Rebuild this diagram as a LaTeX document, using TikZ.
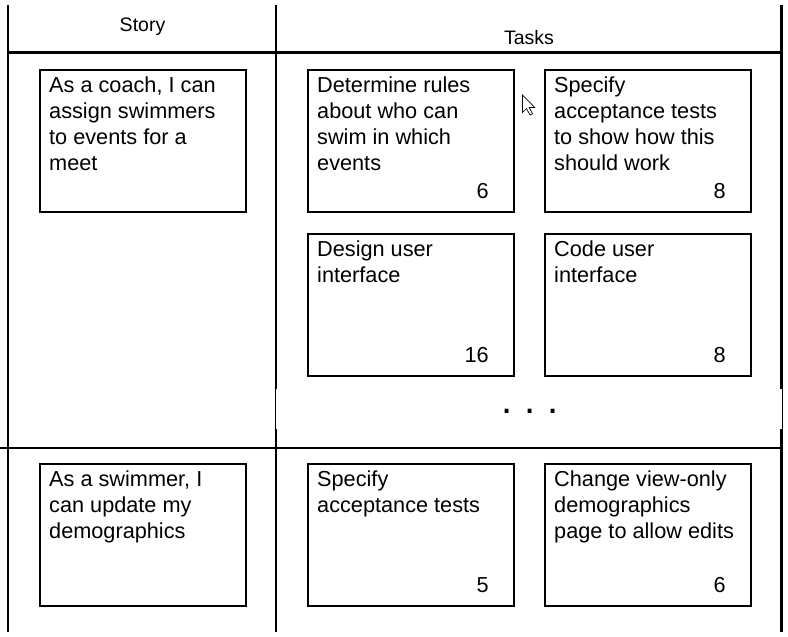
\documentclass[tikz,border=0pt]{standalone}
\usepackage{fontspec}
\setmainfont{Liberation Sans}
\usetikzlibrary{positioning}
\tikzset {
  card/.style = {
    draw = black,
    line width = 1.2pt,
    rectangle,
    minimum width = 206pt,
    minimum height = 142pt,
    inner sep = 0,
    outer sep = 0
  },
  % text in the upper left corner of a card
  card text/.style = {
    anchor = north west,
    align = left,
    inner sep = 0,
    font = \fontsize{21.7}{26}\selectfont
  },
  % estimate in the lower right corner of a card
  estimate/.style = {
    anchor = base east,
    inner sep = 0,
    font = \fontsize{21.7}{26}\selectfont
  },
  heading/.style = {
    anchor = base,
    inner sep = 0,
    font = \fontsize{19.5}{23}\selectfont
  },
  grid line/.style = {
    draw = black,
    line width = 2.2pt
  },
  thin line/.style = {
    draw = black,
    line width = 0.8pt
  },
  node distance = 22pt and 31pt
}
\begin{document}
\begin{tikzpicture}[x=1pt, y=-1pt]
    \useasboundingbox (0,0) rectangle (788,637);

    % table frame
    \coordinate (left-top) at (8,5);
    \coordinate (left-bottom) at (8,632);
    \coordinate (mid-top) at (276,5);
    \coordinate (mid-gap-top) at (276,389);
    \coordinate (mid-gap-bottom) at (276,429);
    \coordinate (mid-bottom) at (276,632);
    \coordinate (right-top) at (781.5,5);
    \coordinate (right-gap-top) at (781.5,389);
    \coordinate (right-gap-bottom) at (781.5,429);
    \coordinate (right-bottom) at (781.5,632);

    \draw[grid line] (left-top) -- (left-bottom);
    \draw[grid line] (mid-top) -- (mid-gap-top);
    \draw[thin line] ([xshift=-0.8pt]mid-gap-top) -- ([xshift=-0.8pt]mid-gap-bottom);
    \draw[grid line] (mid-gap-bottom) -- (mid-bottom);
    \draw[grid line] (right-top) -- (right-gap-top);
    \draw[thin line] ([xshift=0.8pt]right-gap-top) -- ([xshift=0.8pt]right-gap-bottom);
    \draw[grid line] (right-gap-bottom) -- (right-bottom);
    \draw[grid line] (8,52.5) -- (783,52.5);
    \draw[grid line] (0,448) -- (783,448);

    \node[heading] (story-head) at (142.5,31) {Story};
    \node[heading] (tasks-head) at (529,44) {Tasks};

    % first story
    \node[card] (coach) at (143,141) {};
    \node[card, right=62pt of coach] (rules) {};
    \node[card, right=of rules] (tests) {};
    \node[card, below=of rules] (design) {};
    \node[card, below=of tests] (code) {};

    \node[card text] (coach-text) at ([shift={(9,6.9)}]coach.north west)
      {As a coach, I can\\assign swimmers\\to events for a\\meet};
    \node[card text] (rules-text) at ([shift={(9,6.9)}]rules.north west)
      {Determine rules\\about who can\\swim in which\\events};
    \node[card text] (tests-text) at ([shift={(9,6.9)}]tests.north west)
      {Specify\\acceptance tests\\to show how this\\should work};
    \node[card text] (design-text) at ([shift={(9,6.9)}]design.north west)
      {Design user\\interface};
    \node[card text] (code-text) at ([shift={(9,6.9)}]code.north west)
      {Code user\\interface};

    \node[estimate] (rules-est) at ([shift={(-25,-13.5)}]rules.south east) {6};
    \node[estimate] (tests-est) at ([shift={(-25,-13.5)}]tests.south east) {8};
    \node[estimate] (design-est) at ([shift={(-25,-13.5)}]design.south east) {16};
    \node[estimate] (code-est) at ([shift={(-25,-13.5)}]code.south east) {8};

    \node[heading, font = \fontsize{40}{40}\selectfont] (more-tasks) at (530.5,413)
      {.\hspace{11.9pt}.\hspace{11.9pt}.};

    % second story
    \node[card] (swimmer) at (143,535) {};
    \node[card, right=62pt of swimmer] (accept) {};
    \node[card, right=of accept] (edits) {};

    \node[card text] (swimmer-text) at ([shift={(9,6.9)}]swimmer.north west)
      {As a swimmer, I\\can update my\\demographics};
    \node[card text] (accept-text) at ([shift={(9,6.9)}]accept.north west)
      {Specify\\acceptance tests};
    \node[card text] (edits-text) at ([shift={(9,6.9)}]edits.north west)
      {Change view-only\\demographics\\page to allow edits};

    \node[estimate] (accept-est) at ([shift={(-25,-13.5)}]accept.south east) {5};
    \node[estimate] (edits-est) at ([shift={(-25,-13.5)}]edits.south east) {6};

    % mouse pointer
    \draw[thin line, fill = white, line width = 0.7pt] (522.5,95)
      -- ++(0,17.5) -- ++(4,-4) -- ++(3.5,6.5) -- ++(2.5,-1.2)
      -- ++(-3.3,-6.3) -- ++(5.5,0) -- cycle;
  \end{tikzpicture}
\end{document}
